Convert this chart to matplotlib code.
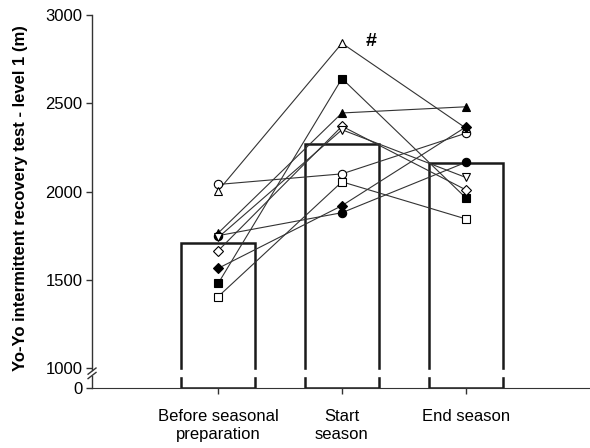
import numpy as np
import matplotlib.pyplot as plt

plt.rcParams['font.family'] = ['Liberation Sans', 'DejaVu Sans']

# categories and group means (bars)
categories = ['Before seasonal\npreparation', 'Start\nseason', 'End season']
bar_means = [1710, 2270, 2160]

# individual players: before, start, end (m)
p_open_circle = [2040, 2100, 2330]
p_open_triangle = [2005, 2840, 2360]
p_filled_triangle = [1765, 2445, 2480]
p_filled_square = [1480, 2640, 1965]
p_open_square = [1405, 2055, 1845]
p_filled_diamond = [1565, 1920, 2365]
p_open_diamond = [1665, 2370, 2010]
p_filled_circle = [1750, 1880, 2165]
p_open_tri_down = [1740, 2350, 2080]

players = [p_open_circle, p_open_triangle, p_filled_triangle, p_filled_square,
           p_open_square, p_filled_diamond, p_open_diamond, p_filled_circle,
           p_open_tri_down]
# marker style for each player
markers = ['o', '^', '^', 's', 's', 'D', 'D', 'o', 'v']
fills = ['white', 'white', 'black', 'black', 'white', 'black', 'white', 'black', 'white']

BASE = 887  # where the broken axis shows "0"

fig = plt.figure(figsize=(5.9, 4.48), dpi=100)
ax = fig.add_axes([0.156, 0.134, 0.843, 0.8325])

x = np.arange(len(categories))

# bars
ax.bar(x, [m - BASE for m in bar_means], bottom=BASE, width=0.6,
       color='white', edgecolor='#1a1a1a', linewidth=1.8, zorder=1)
# gap of the axis break, cut through the bars
ax.axhspan(955, 988, color='white', zorder=1.5)

# individual lines
for vals, mk, fc in zip(players, markers, fills):
    ax.plot(x, vals, color='#333333', linewidth=0.8, zorder=2)
    ax.plot(x, vals, linestyle='none', marker=mk, markersize=6 if mk != 'D' else 5,
            markerfacecolor=fc, markeredgecolor='black', markeredgewidth=0.8, zorder=3)

ax.text(1.19, 2850, '#', fontsize=14, fontweight='bold', ha='left', va='center')

ax.set_xlim(-1.02, 3.0)
ax.set_ylim(BASE, 3000)
ax.set_xticks(x)
ax.set_xticklabels(categories, fontsize=12, linespacing=1.25)
ax.set_yticks([BASE, 1000, 1500, 2000, 2500, 3000])
ax.set_yticklabels(['0', '1000', '1500', '2000', '2500', '3000'], fontsize=12)
ax.tick_params(direction='out', length=4, width=1, color='#333333')
ax.tick_params(axis='x', pad=11)
ax.tick_params(axis='y', pad=3)

ax.spines['top'].set_visible(False)
ax.spines['right'].set_visible(False)
ax.spines['left'].set_visible(False)
ax.spines['bottom'].set_color('#333333')

# broken left axis
yt = ax.get_yaxis_transform()
ax.plot([0, 0], [BASE, 955], color='#333333', lw=1, transform=yt, clip_on=False)
ax.plot([0, 0], [988, 3000], color='#333333', lw=1, transform=yt, clip_on=False)
ax.plot([-0.008, 0.008], [940, 975], color='#333333', lw=1, transform=yt, clip_on=False)
ax.plot([-0.008, 0.008], [965, 1000], color='#333333', lw=1, transform=yt, clip_on=False)

ax.set_ylabel('Yo-Yo intermittent recovery test - level 1 (m)', fontsize=12,
              fontweight='bold')
ax.yaxis.set_label_coords(-0.128, 0.51)

fig.savefig('out.png', dpi=100)
